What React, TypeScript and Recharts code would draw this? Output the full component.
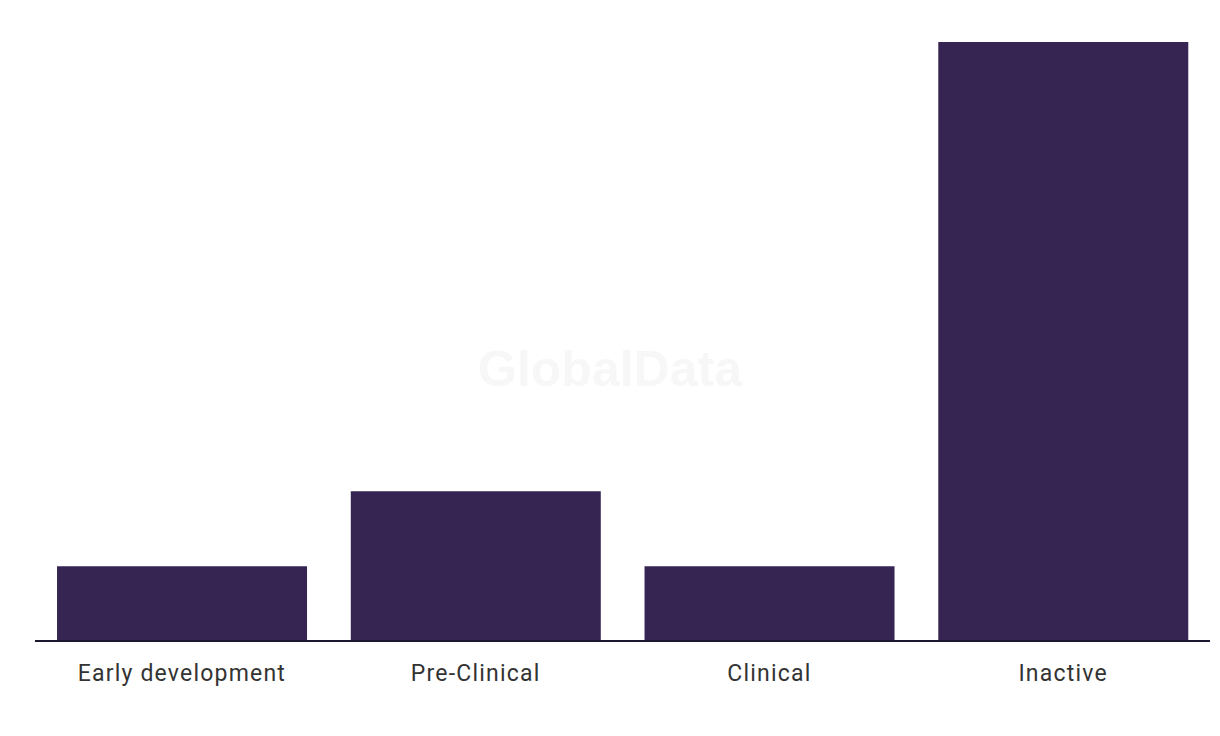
import React from 'react';
import { BarChart, Bar, XAxis, YAxis } from 'recharts';

const stages = ['Early development', 'Pre-Clinical', 'Clinical', 'Inactive'];
const counts = [1, 2, 1, 8];

const data = stages.map((stage, i) => ({ stage, count: counts[i] }));

const App: React.FC = () => {
  return (
    <div style={{ position: 'absolute', left: 0, top: 0, width: 1220, height: 736, background: '#fff' }}>
      <div
        style={{
          position: 'absolute',
          left: 0,
          top: 340,
          width: 1220,
          textAlign: 'center',
          fontFamily: '"Liberation Sans", Arial, sans-serif',
          fontWeight: 700,
          fontSize: 50,
          color: '#f7f7f7',
          pointerEvents: 'none',
        }}
      >
        GlobalData
      </div>
      <BarChart
        width={1220}
        height={736}
        data={data}
        margin={{ top: 42, right: 10, bottom: 35, left: 35 }}
        barCategoryGap="7.5%"
      >
        <YAxis hide domain={[0, 8]} />
        <XAxis
          dataKey="stage"
          height={60}
          tickLine={false}
          axisLine={{ stroke: '#1c1830', strokeWidth: 2 }}
          tick={{ fill: '#333', fontSize: 23, fontFamily: 'Roboto, sans-serif', letterSpacing: 1.2 }}
          tickMargin={18}
          interval={0}
        />
        <Bar dataKey="count" fill="#362452" isAnimationActive={false} />
      </BarChart>
    </div>
  );
};

export default App;
